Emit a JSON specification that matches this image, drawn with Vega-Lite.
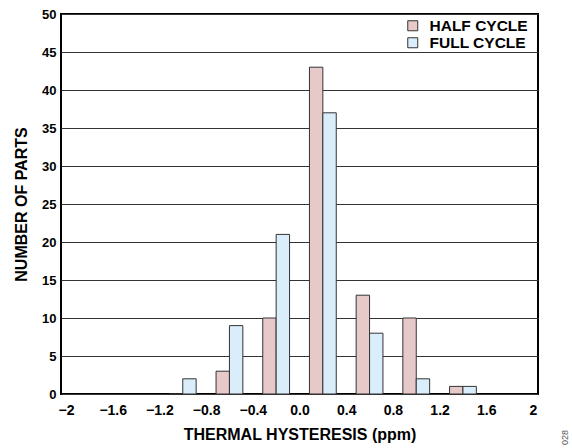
{
  "$schema": "https://vega.github.io/schema/vega-lite/v6.json",
  "width": 477,
  "height": 380,
  "autosize": "none",
  "padding": {"left": 61, "top": 14, "right": 34, "bottom": 54},
  "background": "white",
  "config": {
    "font": "Liberation Sans",
    "view": {"stroke": "#000", "strokeWidth": 2},
    "axis": {
      "labelFont": "Liberation Sans",
      "labelFontWeight": "bold",
      "labelFontSize": 13,
      "labelColor": "#000",
      "titleFont": "Liberation Sans",
      "titleFontWeight": "bold",
      "titleFontSize": 16,
      "titleColor": "#000",
      "domain": false,
      "ticks": false
    }
  },
  "data": {
    "values": [
      {"cycle": "HALF CYCLE", "center": -1.0, "count": 0},
      {"cycle": "FULL CYCLE", "center": -1.0, "count": 2},
      {"cycle": "HALF CYCLE", "center": -0.6, "count": 3},
      {"cycle": "FULL CYCLE", "center": -0.6, "count": 9},
      {"cycle": "HALF CYCLE", "center": -0.2, "count": 10},
      {"cycle": "FULL CYCLE", "center": -0.2, "count": 21},
      {"cycle": "HALF CYCLE", "center": 0.2, "count": 43},
      {"cycle": "FULL CYCLE", "center": 0.2, "count": 37},
      {"cycle": "HALF CYCLE", "center": 0.6, "count": 13},
      {"cycle": "FULL CYCLE", "center": 0.6, "count": 8},
      {"cycle": "HALF CYCLE", "center": 1.0, "count": 10},
      {"cycle": "FULL CYCLE", "center": 1.0, "count": 2},
      {"cycle": "HALF CYCLE", "center": 1.4, "count": 1},
      {"cycle": "FULL CYCLE", "center": 1.4, "count": 1}
    ]
  },
  "resolve": {"axis": {"y": "independent"}},
  "layer": [
    {
      "transform": [{"filter": "datum.cycle === 'HALF CYCLE'"}],
      "mark": {"type": "bar", "size": 13.4, "xOffset": -6.7, "stroke": "#333", "strokeWidth": 1},
      "encoding": {
        "x": {
          "field": "center", "type": "quantitative",
          "scale": {"domain": [-2, 2], "nice": false},
          "axis": {
            "values": [-2, -1.6, -1.2, -0.8, -0.4, 0, 0.4, 0.8, 1.2, 1.6, 2],
            "grid": false,
            "labelFontSize": 14,
            "labelPadding": 9,
            "labelExpr": "datum.value <= -1.99 ? '\u22122' : (datum.value >= 1.99 ? '2' : replace(replace(format(datum.value, '.1f'), '-', '\u2212'), '\u22120.0', '0.0'))",
            "title": "THERMAL HYSTERESIS (ppm)",
            "titlePadding": 9
          }
        },
        "y": {
          "field": "count", "type": "quantitative",
          "scale": {"domain": [0, 50], "nice": false},
          "axis": {
            "values": [0, 5, 10, 15, 20, 25, 30, 35, 40, 45, 50],
            "grid": true, "gridColor": "#333", "gridWidth": 1,
            "labelPadding": 5,
            "title": "NUMBER OF PARTS",
            "titlePadding": 12
          }
        },
        "color": {
          "field": "cycle", "type": "nominal",
          "scale": {"domain": ["HALF CYCLE", "FULL CYCLE"], "range": ["#E8C9C9", "#D9EEFA"]},
          "legend": {
            "title": null,
            "orient": "none",
            "legendX": 344,
            "legendY": 4,
            "symbolType": "square",
            "symbolSize": 100,
            "symbolStrokeColor": "#333",
            "symbolStrokeWidth": 1,
            "labelFont": "Liberation Sans",
            "labelFontWeight": "bold",
            "labelFontSize": 15.5,
            "labelColor": "#000",
            "labelOffset": 9,
            "rowPadding": 0
          }
        }
      }
    },
    {
      "transform": [{"filter": "datum.cycle === 'FULL CYCLE'"}],
      "mark": {"type": "bar", "size": 13.4, "xOffset": 6.7, "stroke": "#333", "strokeWidth": 1},
      "encoding": {
        "x": {"field": "center", "type": "quantitative"},
        "y": {
          "field": "count", "type": "quantitative",
          "axis": {
            "orient": "right",
            "labels": false,
            "grid": false,
            "title": "028",
            "titleAngle": 270,
            "titleFontSize": 9,
            "titleFontWeight": "normal",
            "titleColor": "#555",
            "titleX": 26,
            "titleY": 423,
            "titleAlign": "center",
            "titleBaseline": "middle"
          }
        },
        "color": {"field": "cycle", "type": "nominal"}
      }
    }
  ]
}
